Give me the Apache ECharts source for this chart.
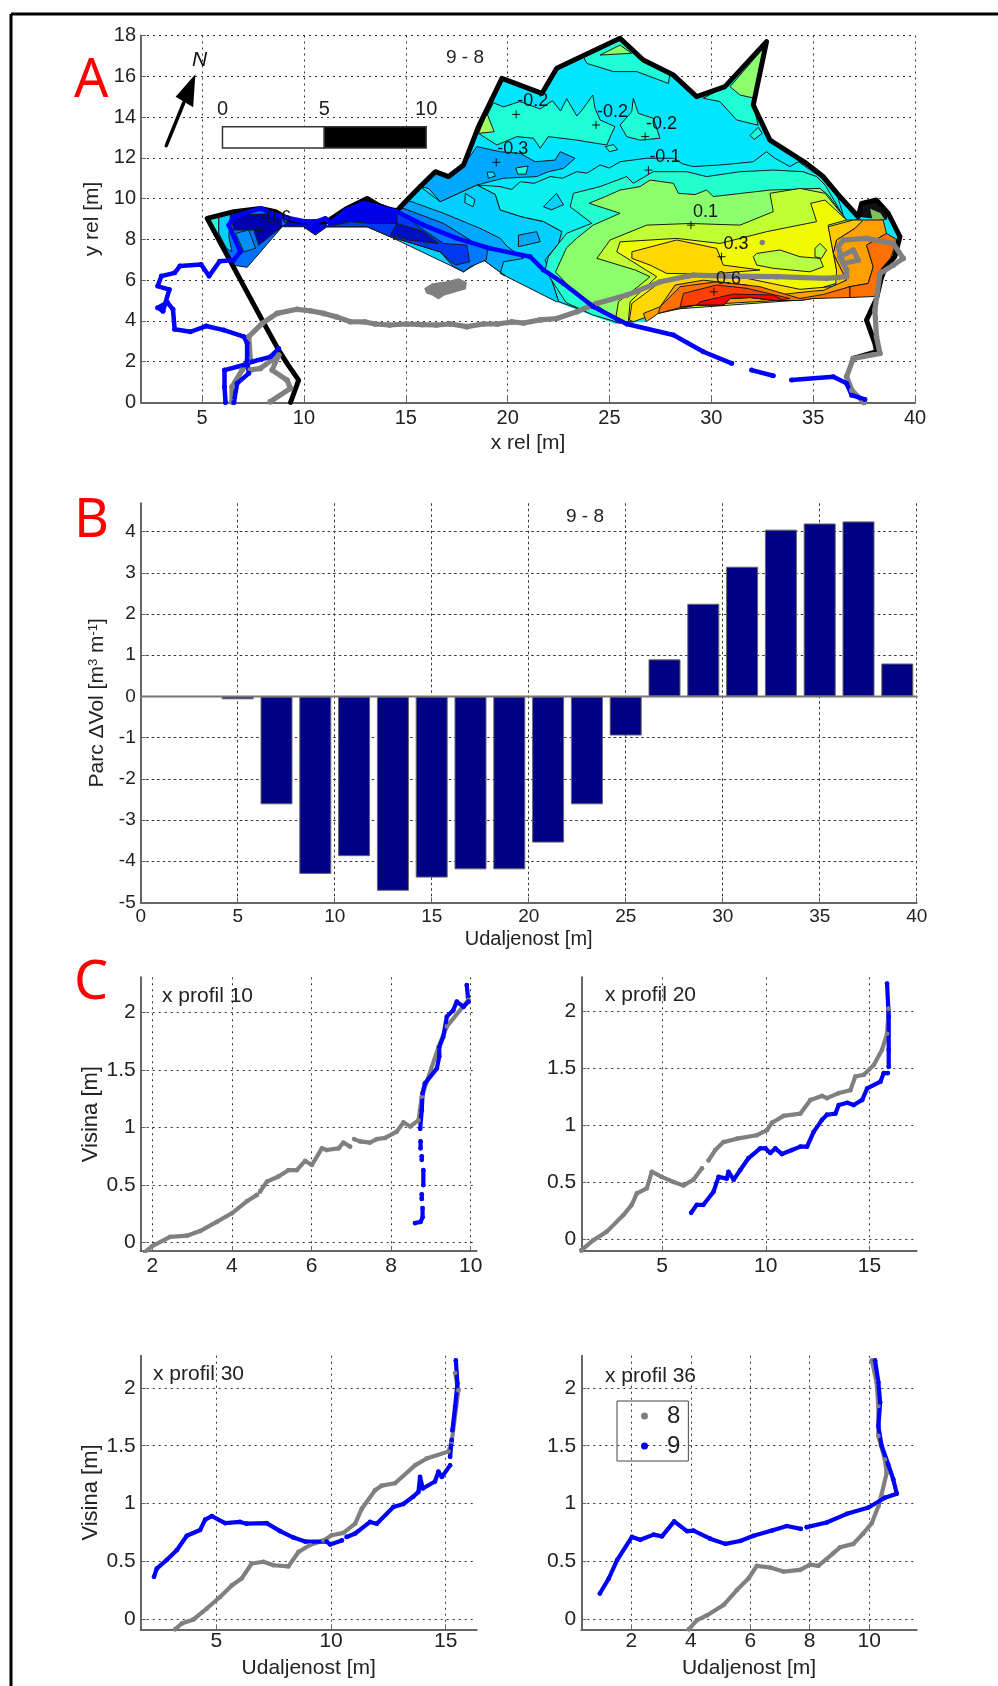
<!DOCTYPE html>
<html><head><meta charset="utf-8">
<script src="https://cdn.jsdelivr.net/npm/echarts@6/dist/echarts.min.js"></script>
<style>html,body{margin:0;padding:0;background:#fff}#c{width:998px;height:1686px}</style></head>
<body><div id="c"></div>
<script>
// ---------- Panel A: contour regions (data coordinates, metres) ----------
const boundaryTrack=[[9.34,0],[9.74,1.1],[9.17,1.92],[8.76,2.57],[7.95,4.04],[5.25,9.03],[6.56,9.36],[7.86,9.52],[8.6,9.36],[9.33,8.95],[9.99,8.87],[11.13,8.87],[12.11,9.52],[13.1,10.01],[13.91,9.52],[14.57,9.41],[15.06,9.93],[15.71,10.59],[16.45,11.32],[17.1,11.08],[17.84,11.65],[18.57,13.53],[19.72,15.9],[21.68,15.16],[22.41,16.39],[25.52,17.86],[26.66,16.8],[28.14,16.06],[29.28,15.0],[30.67,15.49],[32.71,17.7],[32.06,14.59],[32.88,12.87],[34.67,11.73],[35.5,11.07],[36.32,10.09],[37.21,9.11],[37.38,9.76],[38.11,9.93],[38.69,9.27],[39.26,8.13],[39.01,7.15],[38.44,6.5],[38.11,5.1],[37.62,4.04],[38.03,2.9],[38.11,2.49],[36.97,2.16]];
const regionBase=[[5.25,9.03],[6.56,9.36],[7.86,9.52],[8.6,9.36],[9.33,8.95],[9.99,8.87],[11.13,8.87],[12.11,9.52],[13.1,10.01],[13.91,9.52],[14.57,9.41],[15.06,9.93],[15.71,10.59],[16.45,11.32],[17.1,11.08],[17.84,11.65],[18.57,13.53],[19.72,15.9],[21.68,15.16],[22.41,16.39],[25.52,17.86],[26.66,16.8],[28.14,16.06],[29.28,15.0],[30.67,15.49],[32.71,17.7],[32.06,14.59],[32.88,12.87],[34.67,11.73],[35.5,11.07],[36.32,10.09],[37.21,9.11],[38.69,9.1],[39.26,8.13],[39.01,7.15],[38.44,6.5],[38.06,5.2],[35,5.1],[34.35,5],[33.2,5],[31.9,5.15],[30.92,5.1],[30.6,4.78],[29.28,4.78],[28.47,4.66],[27.4,4.37],[26.8,3.96],[25.3,3.85],[24.05,4.3],[22.4,4.94],[19.96,6.17],[18.8,7],[18.2,6.66],[17.84,6.41],[17.35,6.66],[16.69,7.39],[15.06,7.88],[14.24,8.13],[13.1,8.62],[11.13,8.62],[10.56,8.21],[9.97,8.62],[8.93,8.62],[7.21,6.63],[6.49,6.74]];
const regionTeal0=[[18.49,10.67],[19.63,10.59],[20.2,10.45],[20.62,10.83],[21.3,10.75],[22.09,11.08],[22.7,11.0],[23.39,11.32],[23.9,11.25],[24.54,11.65],[25.0,11.5],[25.52,11.81],[26.83,11.98],[28.14,11.98],[28.6,11.7],[29.12,11.57],[30.42,11.65],[31.2,11.72],[32.06,11.81],[32.71,12.3],[33.12,11.98],[33.86,11.57],[34.27,11.81],[35.33,11.08],[36.2,10.1],[36.5,9.1],[34,5.5],[28,5],[25.5,3.9],[24,4.4],[22.5,4.95],[22,6.5],[22.66,8.38],[21.76,8.87],[20.7,9.1],[19.63,9.44],[19.39,10.2]];
const regionLow=[[15.71,10.59],[16.69,9.85],[17.59,10.26],[18.49,10.67],[19.39,10.2],[19.63,9.44],[20.7,9.1],[21.76,8.87],[22.66,8.38],[22.5,7.8],[21.84,7],[22,6.5],[22.5,4.95],[22.4,4.94],[19.96,6.17],[18.8,7],[17.84,6.41],[14.24,8.13],[14.57,9.41],[15.06,9.93]];
const regionPatch3=[[17.84,11.65],[18.49,12.55],[19.63,12.3],[20.62,12.22],[21.35,11.81],[22.33,11.89],[22.58,12.3],[23.31,11.98],[22.74,11.48],[22,11.32],[21.43,11.08],[19.8,11],[18.49,10.67],[17.59,10.26],[16.69,9.85],[16.12,10.5],[15.71,10.59],[16.45,11.32],[17.1,11.08]];
const regionTealA=[[18.57,13.2],[19.47,12.63],[20.45,13.04],[21.27,12.96],[21.6,12.47],[22,13.04],[23.39,12.87],[24.87,12.63],[25.11,13.2],[25.27,13.53],[24.54,13.86],[24.29,14.43],[24.18,15.08],[23.7,14.4],[23.4,14.05],[22.9,14.9],[22.6,14.3],[22.2,14.8],[21.6,14.4],[20.6,14.76],[19.8,14.5],[19.3,14.7]];
const regionTealB=[[25.52,13.61],[26.09,14.26],[26.17,14.92],[26.42,14.18],[27.15,13.94],[27.48,12.96],[26.5,12.87],[25.85,13.04]];
const regionTealTop=[[23.72,16.96],[23.89,16.63],[25.19,16.23],[26.34,16.23],[27.89,15.65],[27.97,16.14],[26.66,16.8],[25.52,17.86]];
const regionGreenTop=[[24.54,17.04],[25.52,17.53],[26.09,17.13]];
const regionTealSpike=[[29.6,14.92],[30.42,14.76],[31.24,13.86],[32.3,13.6],[32.06,14.59],[32.71,17.7],[30.67,15.49]];
const regionGreenSpike=[[30.92,15.49],[32.55,17.37],[32.14,14.92],[31.41,15.08]];
const regionGreenLeft=[[18.57,13.2],[18.98,14.18],[19.34,13.28]];
const regionTeal2=[[23.23,10.26],[24.54,10.59],[25.85,11.08],[26.17,10.75],[27.15,11.32],[28.79,11.32],[29.77,11.08],[31.41,11.32],[33.04,11.4],[34.5,11.32],[35.17,11.08],[35.6,10.65],[36.5,9.1],[34,5.5],[28,5],[25.5,3.9],[24.17,4.3],[22.87,4.9],[21.84,6.5],[22,7.15],[22.5,7.8],[22.9,8.3],[24.13,8.79],[23.07,9.6]];
const regionGreen=[[24,9.77],[24.8,10.1],[25.52,10.42],[26.5,10.59],[27,10.91],[28.14,10.75],[28.38,10.26],[29.2,10.2],[29.77,10.42],[30.1,10.1],[32.88,10.42],[35.33,10.5],[35.74,10.17],[36.6,9],[34,5.5],[28,5],[25.5,3.9],[24.56,4.65],[23.5,5.2],[22.35,6.4],[22.9,7.6],[23.39,8.05],[24.2,8.7],[25.52,9.28]];
const regionYG=[[24.38,7.07],[25.03,7.97],[26.83,8.7],[28.96,8.78],[31.41,8.7],[33.04,9.36],[32.88,10.26],[34.35,10.5],[35.58,10.26],[36.64,8.95],[37.38,8.95],[37.3,6.5],[34,5],[27.5,4.53],[26.1,3.96],[25.28,3.96],[25.44,4.94],[26.5,5.76],[26.99,6.17],[26.26,6.5]];
const regionYellow=[[25.36,7.39],[25.52,7.88],[28.3,8.05],[30.43,7.8],[32.72,8.38],[35.17,8.87],[34.88,9.77],[35.58,9.93],[36.64,8.95],[35.74,8.7],[36.15,6.5],[36.64,6],[34.35,5.3],[31.74,5.7],[27.5,4.8],[26.18,3.96],[25.93,3.96],[26.01,4.94],[27.32,6.17]];
const regionIsland=[[32.06,7.15],[32.23,7.31],[33.37,7.48],[34.35,7.15],[35.33,7.07],[35.5,6.66],[34.84,6.41],[33.04,6.58],[32.23,6.74]];
const regionCircle=[[35.09,7.56],[35.33,7.8],[35.66,7.48],[35.41,7.07],[35.09,7.15]];
const regionGold1=[[26.1,7.39],[28.3,7.97],[30.26,7.56],[30.59,6.74],[32.39,6.5],[30,6.3],[27.81,6.33],[26.99,6.74],[26.1,7.07]];
const regionGold2=[[26.1,4.86],[27.49,5.9],[29.45,6.2],[31.74,6.09],[34.35,5.55],[36.1,5.7],[36.64,6],[35.5,5.19],[34.35,5],[31.74,5.3],[28.2,4.7],[26.18,3.96],[25.98,4.04]];
const regionGold3=[[35.74,8.62],[36.97,8.95],[37.46,8.95],[37.05,8.54],[36.15,7.97],[35.99,7.31],[36.64,6],[36.1,5.7],[36.15,6.5]];
const regionOrange=[[26.67,4.37],[27.49,4.7],[28.22,5.76],[29.61,6],[31.74,5.76],[33.5,5.3],[34.84,5.45],[35.5,5.5],[36.64,6],[35.99,7.31],[36.15,7.97],[37.05,8.54],[37.46,8.95],[38.44,8.95],[38.6,8.29],[37.62,7.72],[37.95,6.66],[37.7,5.84],[36.8,5.68],[35.5,5.19],[34.84,5.1],[33.2,5],[29.28,4.78],[27.4,4.37],[26.8,3.96]];
const regionDarkOrange=[[37.62,7.72],[38.6,8.29],[39.1,8],[38.7,6.7],[38.06,5.2],[36.8,5.15],[36.8,5.68],[37.7,5.84],[37.95,6.66]];
const regionDarkOrange2=[[27.4,4.37],[27.49,4.7],[28.47,5.68],[30.26,5.92],[32.39,5.68],[34.35,5.1],[35.5,5.3],[36.8,5.68],[36.8,5.15],[35,5.1],[34.35,5],[33.2,5],[31.9,5.15],[30.92,5.1],[30.6,4.78],[29.28,4.78],[28.47,4.66]];
const regionRedOrange=[[28.47,4.7],[28.63,5.35],[30.26,5.76],[31.74,5.6],[33.86,5.1],[33.2,5],[31.9,5.15],[30.92,5.1],[30.6,4.78],[29.28,4.78]];
const regionRed=[[29.28,4.78],[29.45,4.94],[31.08,5.32],[33.04,5.27],[33.53,5.02],[33.2,5],[31.9,5.15],[30.92,5.1],[30.6,4.78]];
const regionBlue2=[[11.13,8.62],[11.62,8.95],[12.11,9.52],[13.1,9.96],[14.57,9.44],[15.06,9.93],[16.86,9.28],[18.65,8.54],[19.64,8.05],[19.96,7.67],[20.78,7.07],[19.8,6.9],[19.64,6.33],[19.88,6.2],[18.82,6.99],[18.16,6.66],[17.84,6.41],[17.35,6.66],[16.69,7.39],[15.06,7.89],[14.24,8.13],[13.1,8.62]];
const regionBlue2b=[[20.53,8.21],[21.43,8.38],[21.6,7.89],[20.53,7.64]];
const regionBlue3=[[11.13,8.62],[12.11,9.52],[13.1,9.96],[14.57,9.44],[14.89,9.52],[16.86,8.78],[18.16,7.97],[19.01,7.48],[18.95,6.99],[18.16,6.66],[17.84,6.41],[17.35,6.66],[16.69,7.39],[15.06,7.89],[14.24,8.13],[13.1,8.62]];
const regionBlue4=[[11.13,8.62],[11.62,8.95],[12.11,9.52],[13.1,9.96],[14.57,9.44],[15.87,8.46],[16.86,7.8],[18,7.72],[18.13,6.9],[17.43,6.74],[16.69,7.39],[15.06,7.89],[14.24,8.13],[13.1,8.62]];
const regionBlue5=[[11.13,8.62],[12.11,9.52],[13.1,9.96],[14.57,9.44],[14.57,8.78],[13.26,8.78],[12.28,8.87]];
const regionBlueDark=[[14.57,8.78],[15.87,8.38],[16.61,7.8],[15.14,7.97],[14.24,8.21]];
const regionNotch=[[8.93,8.62],[9.97,8.62],[10.56,8.21],[11.13,8.62],[10.97,9.03],[9.99,8.87],[9.33,8.95]];
const regionWedge=[[5.25,9.03],[6.56,9.36],[7.86,9.52],[8.6,9.36],[9.33,8.95],[8.93,8.62],[7.21,6.63],[6.49,6.74]];
const regionWedgeTeal=[[5.25,9.03],[5.82,9.11],[5.82,8.29],[6.07,7.8],[5.9,7.8]];
const regionWedgeCyan=[[5.82,9.11],[6.39,9.28],[6.31,8.13],[6.47,7.39],[6.2,7.56],[6.07,7.8],[5.82,8.29]];
const regionWedgeLight=[[6.64,8.29],[7.29,8.46],[7.62,7.56],[7.05,7.39]];
const regionWedgeDark=[[6.39,9.19],[8.84,9.27],[8.93,8.62],[7.78,7.72],[7.54,8.46],[6.56,8.46]];
const regionCorner=[[37.3,9.1],[37.4,9.76],[38.11,9.93],[38.69,9.27],[38.6,8.95]];
const regionCornerGreen=[[37.8,9.5],[38.3,9.3],[38.5,9],[37.9,9]];
const islandA=[[21.76,9.6],[22.4,10.26],[22.74,9.7],[22.15,9.45]];
const islandB=[[17.92,10.26],[18.4,9.95],[18.3,9.6],[17.9,9.8]];
const islandC=[[19.0,11.3],[19.3,11.3],[19.4,11.1],[19.05,11]];
const islandD=[[20.4,11.5],[21,11.6],[20.9,11.2],[20.5,11.2]];
const islandE=[[31.9,13.1],[32.3,13.5],[32.5,13.2],[32.1,12.9]];
const islandF=[[24.8,12.55],[25.2,12.65],[25.4,12.4],[25,12.3]];
const regionColors=[
 [regionBase,'#00e6ff',0],[regionTeal0,'#0af0ee',1],[regionLow,'#00d0ff',1],[regionPatch3,'#00a8ff',1],
 [regionTealA,'#1effd8',1],[regionTealB,'#1effd8',1],[regionTealTop,'#1effd8',1],[regionGreenTop,'#8cff6c',1],
 [regionTealSpike,'#1effd8',1],[regionGreenSpike,'#8cff6c',1],[regionGreenLeft,'#a0ff60',1],
 [islandA,'#00d0ff',1],[islandB,'#00e6ff',1],[islandC,'#00e6ff',1],[islandD,'#1effd8',1],[islandE,'#1effd8',1],[islandF,'#1effd8',1],
 [regionTeal2,'#24ffd0',1],[regionGreen,'#8cff6c',1],[regionYG,'#c0ff34',1],[regionYellow,'#f0fa00',1],
 [regionIsland,'#b8ff40',1],[regionCircle,'#b8ff40',1],[regionGold1,'#ffd800',1],[regionGold2,'#ffd800',1],[regionGold3,'#ffc800',1],
 [regionOrange,'#ffa000',1],[regionDarkOrange,'#ff7000',1],[regionDarkOrange2,'#ff7000',1],[regionRedOrange,'#ff4000',1],[regionRed,'#ff0000',1],
 [regionBlue2,'#00a8ff',1],[regionBlue2b,'#00a8ff',1],[regionBlue3,'#0078ff',1],[regionBlue4,'#0038f0',1],[regionBlue5,'#0000e8',1],[regionBlueDark,'#0010c0',1],
 [regionNotch,'#0000e8',1],[regionWedge,'#0070ff',1],[regionWedgeTeal,'#20ffd8',1],[regionWedgeCyan,'#00d0ff',1],[regionWedgeLight,'#0090ff',1],[regionWedgeDark,'#0000b0',1],
 [regionCorner,'#111111',0],[regionCornerGreen,'#80c060',0]
];
const greyBlob=[[15.9,5.6],[16.3,5.85],[17,5.95],[17.6,6.1],[18,5.9],[17.95,5.55],[17.4,5.4],[16.9,5.25],[16.6,5.05],[16.3,5.25],[16,5.35]];
const greyTrack=[[8.35,0.04],[9.34,0.69],[9.17,1.1],[8.44,1.59],[8.76,2.33],[7.86,1.67],[7.37,1.6],null,[6.47,0.02],[6.47,0.77],[6.96,1.59],[7.37,2.08],[7.29,3.23],[7.95,3.88],[8.68,4.37],[9.66,4.57],[10.3,4.5],[10.97,4.37],[11.6,4.2],[12.28,3.96],[13,3.95],[13.5,3.85],[14.2,3.8],[15.06,3.85],[15.8,3.82],[16.5,3.8],[17.2,3.85],[18,3.72],[18.8,3.85],[19.5,3.85],[20.2,3.95],[20.78,3.9],[21.6,4.05],[22.41,4.12],[23.4,4.45],[24.38,4.86],[25.85,5.27],[27.49,5.92],[29.12,6.25],[30.76,6.2],[33.21,6.17],[35.66,6.09],[36.64,6.17],[36.64,6.5],[36.31,7.15],[36.97,7.48],[37.21,6.98],[36.48,6.82],[36.23,7.64],[36.48,7.97],[37.62,8.05],[38.93,7.8],[39.42,7.07],[38.93,6.74],[38.28,6.33],[38.03,4.53],[38.11,3.22],[38.28,2.41],[36.97,2.16],[36.64,1.26],[36.9,0.6],[37.49,0]];
const greyDot=[[32.5,7.85]];
const blueTrackA=[[6.15,0],[6.1,0.77],[6.1,1.59],[7.05,1.84],[7.45,2],[8.35,2.24],[8.76,2.65],null,[6.56,0],[6.72,0.94],[7.29,1.43],[7.21,2.08],[7.21,2.9],[7.05,3.23],[6.07,3.55],[5.2,3.75],[4.43,3.47],[3.65,3.59],[3.57,4.57],[3.3,4.9],[2.82,4.65],[3.08,4.48],[3.39,5.54],[2.82,5.71],[3,6.2],[3.65,6.36],[3.91,6.69],[4.95,6.77],[5.34,6.2],[5.86,6.93],[6.56,6.99],[6.88,7.4],[6.31,8.7],[6.56,9.11],[7.86,9.52],[8.6,9.2],[9.66,8.95],[10.48,8.82],[11.05,9.03],[11.3,8.78],[12.11,9.44],[12.93,9.77],[14.57,9.36],[15.87,8.7],[17.51,8.05],[19.14,7.56],[21.11,7.15],[21.76,6.5],[22.74,5.84],[24.21,4.7],[25.85,3.85],[28.14,3.31],[29.61,2.49],[31,1.92],null,[31.98,1.59],[33.04,1.31],null,[33.94,1.1],[35.99,1.26],[36.64,0.94],[36.89,0.36],[37.54,0.15]];
const scaleWhite=[[6,12.48],[11,12.48],[11,13.53],[6,13.53]];
const scaleBlack=[[11,12.48],[16,12.48],[16,13.53],[11,13.53]];
const northShaft=[[3.24,12.6],[4.1,14.7]];
const northHead=[[4.67,16.1],[3.7,15],[4.56,14.48]];
const contourLabelX=[20.42,24.34,26.75,19.44,26.91,29,30.5,30.13,7.8];
const contourLabelY=[14.13,13.61,13.04,11.78,11.4,8.7,7.15,5.43,8.43];
const contourLabelText=['-0.2','-0.2','-0.2','-0.3','-0.1','0.1','0.3','0.6','-0.6'];
const scaleLabelX=[6,11,16];
const scaleLabelText=['0','5','10'];
// ---------- Panel B ----------
const barX=[5,7,9,11,13,15,17,19,21,23,25,27,29,31,33,35,37,39];
const barVal=[-0.07,-2.62,-4.31,-3.88,-4.72,-4.4,-4.2,-4.2,-3.55,-2.62,-0.95,0.9,2.25,3.15,4.05,4.2,4.25,0.8];
// ---------- Panel C profiles [distance, height] ----------
const p10grey=[[1.82,-0.08],[2,-0.03],[2.45,0.05],[2.87,0.06],[3.2,0.1],[3.62,0.18],[4,0.255],[4.38,0.36],[4.63,0.415],null,[4.71,0.445],[4.88,0.53],[5.17,0.575],[5.42,0.63],[5.63,0.63],[5.84,0.71],[6.01,0.675],[6.26,0.82],[6.38,0.805],[6.68,0.82],[6.8,0.87],[6.97,0.835],null,[7.07,0.9],[7.22,0.88],[7.47,0.87],[7.64,0.9],[7.85,0.91],[8.14,0.965],[8.31,1.045],[8.48,1.01],[8.69,1.065],[8.77,1.27],[9.19,1.7],[9.4,1.88],[9.94,2.11]];
const p10blue=[[8.6,0.17],[8.74,0.18],[8.79,0.22],[8.79,0.3],null,[8.77,0.38],[8.77,0.42],null,[8.81,0.5],[8.81,0.63],null,[8.77,0.72],[8.77,0.75],null,[8.74,0.82],[8.74,0.88],null,[8.73,0.99],[8.77,1.15],[8.79,1.3],[8.85,1.385],[9.15,1.515],[9.21,1.62],[9.21,1.7],[9.31,1.79],[9.4,1.965],[9.56,2.02],[9.65,2.095],[9.82,2.05],[9.94,2.095],[9.9,2.24]];
const p20grey=[[1.1,-0.1],[1.68,-0.01],[2.33,0.065],[3.13,0.21],[3.53,0.3],[3.78,0.4],[4.26,0.445],[4.5,0.59],[4.98,0.545],[5.55,0.5],[6.03,0.47],[6.51,0.52],[6.92,0.62],null,[7.24,0.69],[7.56,0.78],[7.96,0.85],[8.61,0.88],[9.57,0.91],[10.06,0.955],[10.3,1.02],[10.86,1.08],[11.67,1.1],[12.15,1.22],[12.71,1.255],[12.95,1.235],[13.52,1.28],[14.08,1.305],[14.32,1.425],[14.73,1.44],[15.21,1.525],[15.61,1.66],[15.85,1.8],[15.93,2.02]];
const p20blue=[[6.4,0.23],[6.67,0.3],[6.99,0.3],[7.48,0.415],[7.72,0.545],[8.12,0.53],[8.2,0.59],[8.45,0.52],[8.77,0.605],[9.17,0.71],[9.73,0.795],[9.98,0.795],[10.22,0.755],[10.46,0.795],[10.78,0.745],[11.26,0.78],[11.67,0.81],[11.99,0.81],[12.31,0.94],[12.71,1.045],[12.95,1.09],[13.36,1.1],[13.52,1.175],[13.93,1.195],[14.24,1.175],[14.65,1.22],[14.89,1.32],[15.53,1.38],[15.69,1.455],[15.89,1.455],null,[15.93,1.51],[15.93,1.66],[15.93,1.95],[15.85,2.24]];
const p30grey=[[3.2,-0.09],[3.49,-0.04],[4,-0.005],[4.58,0.09],[5.16,0.19],[5.67,0.29],[6.1,0.35],[6.54,0.48],[7.05,0.495],[7.49,0.465],[8.14,0.455],[8.58,0.58],[9.08,0.64],[9.67,0.68],[10.03,0.725],[10.54,0.745],[11.05,0.825],[11.34,0.955],[11.92,1.115],[12.21,1.155],[12.79,1.175],[13.66,1.33],[14.17,1.39],[15.12,1.45],[15.26,1.535],[15.55,1.98],[15.41,2.13]];
const p30blue=[[2.28,0.365],[2.4,0.435],[2.83,0.51],[3.27,0.595],[3.71,0.72],[4.29,0.77],[4.51,0.86],[4.8,0.89],[5.38,0.83],[6.03,0.84],[6.32,0.825],[7.19,0.83],[7.78,0.76],[8.36,0.705],[8.87,0.67],[9.81,0.67],[9.96,0.645],[10.47,0.68],null,[10.68,0.71],[11.05,0.74],[11.7,0.84],[11.99,0.825],[12.72,0.97],[13.15,0.995],[13.59,1.06],[13.81,1.1],[13.88,1.23],[14,1.13],[14.53,1.19],[14.68,1.275],[14.83,1.23],[15.19,1.33],null,[15.19,1.405],[15.26,1.55],null,[15.29,1.635],[15.41,1.84],[15.51,2.04],[15.44,2.24]];
const p36grey=[[3.93,-0.09],[4.21,-0.01],[4.54,0.03],[5.1,0.12],[5.55,0.25],[5.94,0.35],[6.22,0.46],[6.67,0.445],[7.12,0.41],[7.68,0.425],[8.01,0.47],[8.29,0.46],[8.8,0.57],[9.02,0.62],[9.47,0.65],[9.8,0.74],[10.09,0.83],[10.31,0.975],[10.43,1.09],[10.59,1.265],[10.53,1.38],[10.31,1.585],[10.31,1.845],[10.25,2.05],[10.09,2.24]];
const p36blue=[[0.94,0.22],[1.24,0.35],[1.52,0.51],[2.02,0.71],[2.3,0.685],[2.75,0.73],[3.03,0.715],[3.44,0.845],[3.87,0.76],[4.09,0.765],[4.65,0.695],[5.16,0.65],[5.66,0.675],[6.11,0.72],[6.73,0.765],[7.23,0.805],[7.7,0.78],null,[7.9,0.795],[8.57,0.835],[9.25,0.91],[9.98,0.965],[10.53,1.05],[10.93,1.085],[10.81,1.21],[10.64,1.34],[10.42,1.5],[10.31,1.67],[10.37,1.875],[10.31,2.05],[10.2,2.24]];
const ticksAx=[5,10,15,20,25,30,35,40], ticksAy=[0,2,4,6,8,10,12,14,16,18];
const ticksBx=[0,5,10,15,20,25,30,35,40], ticksBy=[-5,-4,-3,-2,-1,0,1,2,3,4];
const ticksCy=[0,0.5,1,1.5,2];
const ticksC1=[2,4,6,8,10], ticksC2=[5,10,15], ticksC3=[5,10,15], ticksC4=[2,4,6,8,10];

const FONT='"Liberation Sans",Arial,sans-serif', TXT='#222', AX='#666', GREY='#808080', BLUE='#0000ff';
const gaps=a=>a.map(p=>p===null?['-','-']:p);
function ax(min,max,ticks,fs,extra,margin,dash){return Object.assign({type:'value',min,max,
  axisLine:{show:true,onZero:false,lineStyle:{color:AX,width:2}},
  axisTick:{show:true,inside:true,length:5,customValues:ticks,lineStyle:{color:AX,width:1}},
  axisLabel:{show:true,customValues:ticks,fontSize:fs,color:TXT,margin:margin==null?5:margin,fontFamily:FONT,hideOverlap:false},
  splitLine:{show:true,lineStyle:{color:'#333',type:dash||[2,4],width:1}},
  nameLocation:'middle',nameTextStyle:{fontSize:fs,color:TXT,fontFamily:FONT}},extra||{});}
const grids=[[141,35.5,774,367],[140.7,503.3,776,399],[140.7,977.3,336,273.7],[581.3,977.3,335.4,273.7],[140.7,1355.7,336,273.6],[581.3,1355.7,335.4,273.6]]
  .map(g=>({left:g[0],top:g[1],width:g[2],height:g[3]}));
const name21={fontSize:21,color:TXT,fontFamily:FONT};
const xAxes=[ax(2,40,ticksAx,20,{name:'x rel [m]',nameGap:30,nameTextStyle:name21},6),ax(0,40,ticksBx,19,{name:'Udaljenost [m]',nameGap:27,nameTextStyle:{fontSize:20,color:TXT,fontFamily:FONT}},5,[2.5,3]),
  ax(1.71,10.15,ticksC1,21),ax(1.1,17.28,ticksC2,21),ax(1.7,16.35,ticksC3,21,{name:'Udaljenost [m]',nameGap:28,nameTextStyle:name21},1),ax(0.316,11.6,ticksC4,21,{name:'Udaljenost [m]',nameGap:28,nameTextStyle:name21},1)];
const yAxes=[ax(0,18,ticksAy,20,{name:'y rel [m]',nameGap:25,nameTextStyle:name21}),
  ax(-5,4.69,ticksBy,19,{name:'{a|Parc \u0394Vol [m}{s|3}{a| m}{s|-1}{a|]}',nameGap:25,nameTextStyle:{color:TXT,fontFamily:FONT,rich:{a:{fontSize:21,color:TXT,fontFamily:FONT},s:{fontSize:13,color:TXT,verticalAlign:'top',fontFamily:FONT}}}},5,[2.5,3]),
  ax(-0.073,2.307,ticksCy,21,{name:'Visina [m]',nameGap:39,nameTextStyle:{fontSize:22,color:TXT,fontFamily:FONT}}),ax(-0.105,2.295,ticksCy,21),
  ax(-0.09,2.28,ticksCy,21,{name:'Visina [m]',nameGap:39,nameTextStyle:{fontSize:22,color:TXT,fontFamily:FONT}}),ax(-0.09,2.28,ticksCy,21)];
xAxes.forEach((a,i)=>a.gridIndex=i);yAxes.forEach((a,i)=>a.gridIndex=i);

const series=[];
series.push({type:'custom',coordinateSystem:'cartesian2d',xAxisIndex:0,yAxisIndex:0,silent:true,clip:false,
  data:regionColors.map((r,i)=>[i]),encode:{x:0,y:0},
  renderItem(params,api){const r=regionColors[params.dataIndex];
    return {type:'polygon',shape:{points:r[0].map(p=>api.coord(p))},style:{fill:r[1],stroke:r[2]?'#1a1a1a':null,lineWidth:r[2]?1:0}};}});
function lineS(data,color,width,xi,name,extra){return Object.assign({type:'line',name:name||undefined,xAxisIndex:xi,yAxisIndex:xi,data:gaps(data),showSymbol:true,showAllSymbol:true,symbol:'circle',symbolSize:width+0.5,
  connectNulls:false,smooth:false,silent:true,itemStyle:{color},lineStyle:{color,width,join:'round',cap:'round'},z:3},extra||{});}
series.push(lineS(boundaryTrack,'#000',5,0,'',{showSymbol:false}));
series.push({type:'custom',coordinateSystem:'cartesian2d',xAxisIndex:0,yAxisIndex:0,silent:true,clip:false,z:3,data:[[0]],encode:{x:0,y:0},
  renderItem(p,api){return {type:'polygon',shape:{points:greyBlob.map(q=>api.coord(q))},style:{fill:GREY}};}});
series.push(lineS(greyDot,GREY,5,0));
series.push(lineS(greyTrack,GREY,5.2,0));
series.push(lineS(blueTrackA,BLUE,4.5,0));
series.push({type:'custom',coordinateSystem:'cartesian2d',xAxisIndex:0,yAxisIndex:0,silent:true,clip:false,z:4,data:[[0],[1],[2]],encode:{x:0,y:0},
  renderItem(p,api){const sets=[[scaleWhite,'#fff'],[scaleBlack,'#000'],[northHead,'#000']];const s=sets[p.dataIndex];
    return {type:'polygon',shape:{points:s[0].map(q=>api.coord(q))},style:{fill:s[1],stroke:'#333',lineWidth:p.dataIndex==2?0:1.5}};}});
series.push(lineS(northShaft,'#000',3.5,0,'',{showSymbol:false,z:4}));
series.push({type:'custom',coordinateSystem:'cartesian2d',xAxisIndex:0,yAxisIndex:0,silent:true,clip:false,z:5,
  data:contourLabelText.map((t,i)=>[contourLabelX[i],contourLabelY[i]]),
  renderItem(p,api){const c=api.coord([api.value(0),api.value(1)]);
    return {type:'group',children:[
      {type:'line',shape:{x1:c[0]-4,y1:c[1],x2:c[0]+4,y2:c[1]},style:{stroke:'#111',lineWidth:1}},
      {type:'line',shape:{x1:c[0],y1:c[1]-4,x2:c[0],y2:c[1]+4},style:{stroke:'#111',lineWidth:1}},
      {type:'text',style:{x:c[0]+(contourLabelText[p.dataIndex][0]==='-'?1:2),y:c[1]-13,text:contourLabelText[p.dataIndex],font:'18px '+FONT,fill:'#111',align:'left',verticalAlign:'middle'}}]};}});
series.push({type:'custom',coordinateSystem:'cartesian2d',xAxisIndex:0,yAxisIndex:0,silent:true,clip:false,z:5,
  data:scaleLabelText.map((t,i)=>[scaleLabelX[i],14.35]),
  renderItem(p,api){const c=api.coord([api.value(0),api.value(1)]);
    return {type:'text',style:{x:c[0],y:c[1],text:scaleLabelText[p.dataIndex],font:'20px '+FONT,fill:TXT,align:'center',verticalAlign:'middle'}};}});
series.push({type:'bar',xAxisIndex:1,yAxisIndex:1,data:barX.map((x,i)=>[x,barVal[i]]),barWidth:32,silent:true,
  itemStyle:{color:'#000084',borderColor:'#666',borderWidth:1},z:3});
series.push(lineS([[0,0],[40,0]],'#777',2,1,'',{showSymbol:false,z:4}));
[[p10grey,p10blue],[p20grey,p20blue],[p30grey,p30blue],[p36grey,p36blue]].forEach((p,i)=>{
  series.push(lineS(p[0],GREY,4.2,i+2,'8'));
  series.push(lineS(p[1],BLUE,4.2,i+2,'9'));
});
const t=(text,x,y,o)=>({type:'text',left:x,top:y,silent:true,z:20,style:Object.assign({text,font:'21px '+FONT,fill:TXT,textVerticalAlign:'middle'},o||{})});
const graphic=[
 {type:'line',silent:true,z:20,shape:{x1:11,y1:14,x2:998,y2:14},style:{stroke:'#000',lineWidth:3}},
 {type:'line',silent:true,z:20,shape:{x1:11,y1:14,x2:11,y2:1686},style:{stroke:'#000',lineWidth:3}},
 t('A',74,55,{font:'54px "Noto Sans",sans-serif',fill:'#f00'}),
 t('B',74,495,{font:'54px "Noto Sans",sans-serif',fill:'#f00'}),
 t('C',74,957,{font:'54px "Noto Sans",sans-serif',fill:'#f00'}),
 t('9 - 8',446,48,{font:'19px '+FONT}),
 t('9 - 8',566,507,{font:'19px '+FONT}),
 t('N',192,50,{font:'italic 21px '+FONT,fill:'#111'}),
 t('x profil 10',162,986),t('x profil 20',605,985),t('x profil 30',153,1364),t('x profil 36',605,1366)
];
const chart=echarts.init(document.getElementById('c'),null,{renderer:'canvas'});
chart.setOption({animation:false,backgroundColor:'#fff',textStyle:{fontFamily:FONT},grid:grids,xAxis:xAxes,yAxis:yAxes,series,graphic,
 legend:{data:['8','9'],left:617,top:1401,orient:'vertical',selectedMode:false,icon:'circle',itemWidth:7,itemHeight:7,itemGap:6,
   padding:[3,8,3,24],borderColor:'#444',borderWidth:1,textStyle:{fontSize:24,color:TXT,padding:[0,0,0,14],fontFamily:FONT}}});
</script></body></html>
